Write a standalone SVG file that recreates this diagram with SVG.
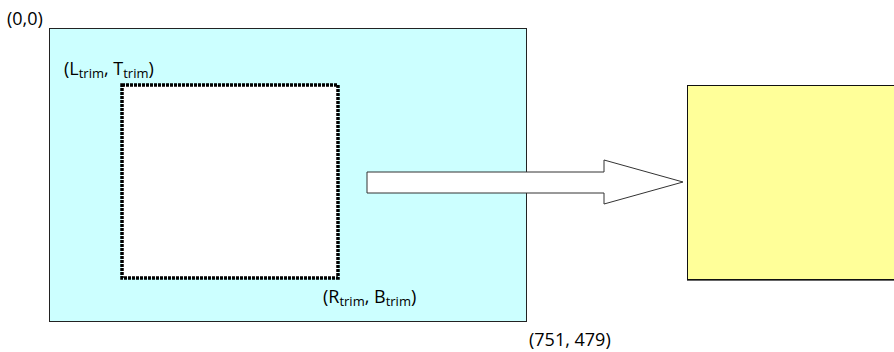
<svg xmlns="http://www.w3.org/2000/svg" width="894" height="352" viewBox="0 0 894 352">
<style>
.t{font-family:"Open Sans","Liberation Sans",sans-serif;font-size:18px;fill:#000}
.s{font-size:13px}
</style>
<rect width="894" height="352" fill="#fff"/>
<g id="image">
<rect x="49.5" y="28.5" width="477" height="293" fill="#CCFFFF" stroke="#222" stroke-width="1"/>
</g>
<g id="trim">
<rect x="122" y="85" width="216" height="193" fill="#fff" stroke="#000" stroke-width="3.5" stroke-dasharray="3 1"/>
</g>
<g id="output">
<rect x="687" y="86" width="212" height="195" fill="#666"/>
<rect x="687.5" y="85.5" width="210" height="194" fill="#FFFF99" stroke="#111" stroke-width="1"/>
</g>
<g id="connectors">
<polygon points="367,172 604,172 604,160 683,182 604,204 604,193 367,193" fill="#fff" stroke="#333" stroke-width="1"/>
</g>
<g id="labels">
<text class="t" x="7" y="25">(0,0)</text>
<text class="t" x="64" y="75">(L<tspan class="s" dy="3">trim</tspan><tspan dy="-3">, T</tspan><tspan class="s" dy="3">trim</tspan><tspan dy="-3">)</tspan></text>
<text class="t" x="323" y="303">(R<tspan class="s" dy="3">trim</tspan><tspan dy="-3">, B</tspan><tspan class="s" dy="3">trim</tspan><tspan dy="-3">)</tspan></text>
<text class="t" x="529" y="346">(751, 479)</text>
</g>
</svg>
